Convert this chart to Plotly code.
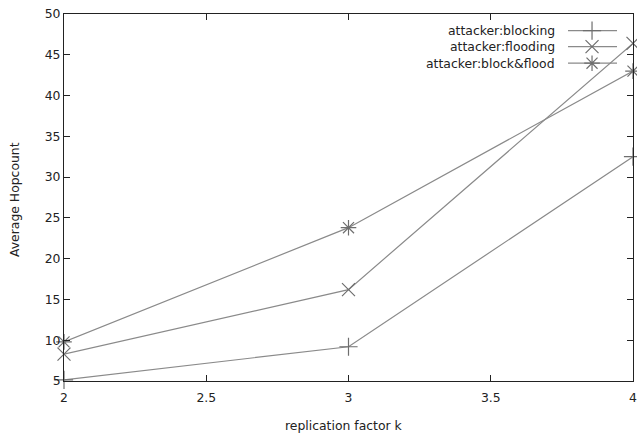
import plotly.graph_objects as go

k_values = [2, 3, 4]
blocking = [5.15, 9.2, 32.5]
flooding = [8.3, 16.2, 46.4]
block_flood = [9.8, 23.8, 43.0]
series_names = ["attacker:blocking", "attacker:flooding", "attacker:block&flood"]
x_ticks = [2, 2.5, 3, 3.5, 4]
y_ticks = [5, 10, 15, 20, 25, 30, 35, 40, 45, 50]

LINE = "#8a8a8a"
MARK = "#6e6e6e"
FONT = dict(family="DejaVu Sans", size=12.4, color="#222222")
symbols = ["cross-thin", "x-thin", "asterisk"]

fig = go.Figure()
for vals, sym in zip([blocking, flooding, block_flood], symbols):
    fig.add_trace(go.Scatter(
        x=k_values, y=vals, mode="lines+markers",
        line=dict(color=LINE, width=1.2),
        marker=dict(symbol=sym, size=13, line=dict(color=MARK, width=1.2), color=MARK),
        cliponaxis=False, showlegend=False, hoverinfo="skip"))

# manual gnuplot-style legend (text left, sample right)
leg_y = [0.9545, 0.911, 0.866]
for name, sym, yy in zip(series_names, symbols, leg_y):
    fig.add_trace(go.Scatter(
        x=[0.8858, 0.9719], y=[yy, yy], mode="lines", xaxis="x2", yaxis="y2",
        line=dict(color=LINE, width=1.2), showlegend=False, hoverinfo="skip"))
    fig.add_trace(go.Scatter(
        x=[0.928], y=[yy], mode="markers", xaxis="x2", yaxis="y2",
        marker=dict(symbol=sym, size=13, line=dict(color=MARK, width=1.2), color=MARK),
        showlegend=False, hoverinfo="skip", cliponaxis=False))
    fig.add_annotation(text=name, xref="paper", yref="paper", x=0.866, y=yy,
                       xanchor="right", yanchor="middle", showarrow=False, font=FONT)

# axis titles
fig.add_annotation(text="replication factor k", xref="paper", yref="paper",
                   x=(344 - 64) / 569, y=-(425 - 381) / 367, xanchor="center", yanchor="middle",
                   showarrow=False, font=FONT)
fig.add_annotation(text="Average Hopcount", xref="paper", yref="paper",
                   x=-(64 - 15) / 569, y=(381 - 200) / 367, xanchor="center", yanchor="middle",
                   textangle=-90, showarrow=False, font=FONT)

axis_common = dict(showgrid=False, zeroline=False, showline=True, linecolor="#222222",
                   linewidth=1, mirror="ticks", ticks="inside", ticklen=6,
                   tickcolor="#222222", tickfont=FONT, automargin=False,
                   ticklabeloverflow="allow")
fig.update_layout(
    width=637, height=439,
    margin=dict(l=64, r=4, t=14, b=58),
    paper_bgcolor="white", plot_bgcolor="white",
    font=FONT,
    xaxis=dict(range=[2, 4], tickvals=x_ticks, ticktext=[str(v) for v in x_ticks],
               ticklabelstandoff=5, **axis_common),
    yaxis=dict(range=[5, 50], tickvals=y_ticks, **axis_common),
    xaxis2=dict(overlaying="x", range=[0, 1], visible=False),
    yaxis2=dict(overlaying="y", range=[0, 1], visible=False),
)
fig.write_html("out.html", config={"displayModeBar": False},
               post_script="document.body.style.margin='0';document.body.style.overflow='hidden';")
